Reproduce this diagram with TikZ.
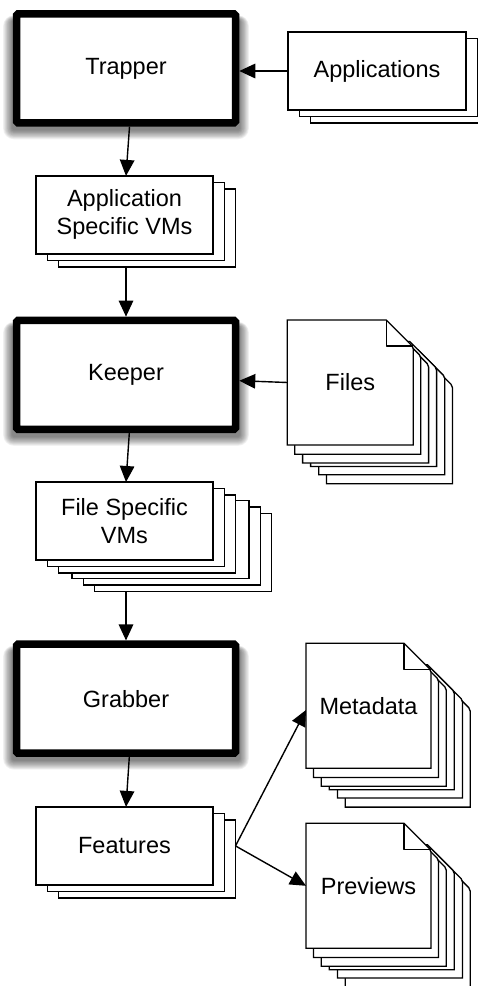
\documentclass[tikz,border=0pt]{standalone}
\usepackage{fontspec}
\setmainfont{Liberation Sans}
\usetikzlibrary{arrows.meta,backgrounds}

\newcommand\labelfont{\fontsize{23.5}{28}\selectfont}

\tikzset{
  thinline/.style={line width=1.3pt, draw=black},
  stage/.style={draw=black, fill=white, line width=7.5pt, rounded corners=1.5pt,
    minimum width=219pt, minimum height=109pt, inner sep=0pt, font=\labelfont},
  stackbox/.style={thinline, fill=white, minimum width=177pt, minimum height=78pt,
    inner sep=0pt, outer sep=0pt, align=center, font=\labelfont},
  docpage/.style={minimum width=125pt, minimum height=125pt, inner sep=0pt,
    outer sep=0pt, font=\labelfont},
  flow/.style={line width=1.4pt, -{Triangle[length=16pt,width=14.5pt]}},
}

% one sheet of a stacked box, shifted by (dx,dy) downwards-right
\newcommand\backbox[3]{%
  \filldraw[thinline, fill=white] ([shift={(#2,#3)}]#1.north west) rectangle ([shift={(#2,#3)}]#1.south east);}

% one document sheet with a cut corner, shifted by (dx,dy)
\newcommand\docsheet[3]{%
  \filldraw[thinline, fill=white] ([shift={(#2,#3)}]#1.north west)
    -- ([shift={(#2-27,#3)}]#1.north east)
    [rounded corners=2pt] -- ([shift={(#2,#3+27)}]#1.north east)
    [sharp corners] -- ([shift={(#2,#3)}]#1.south east)
    -- ([shift={(#2,#3)}]#1.south west) -- cycle;}

% a pile of document sheets behind a named node
\newcommand\docstack[1]{%
  \docsheet{#1}{39.2}{38.8}
  \docsheet{#1}{31.5}{29.7}
  \docsheet{#1}{23.3}{21.4}
  \docsheet{#1}{15.3}{18}
  \docsheet{#1}{7.5}{9.2}
  \docsheet{#1}{0}{0}
  \draw[thinline, line join=round] ([shift={(-27,0)}]#1.north east)
    -- ([shift={(-27,26)}]#1.north east) -- ([shift={(0,26)}]#1.north east);}

% soft drop shadow under a named node, falling mostly downwards
\newcommand\softshadow[1]{%
  \foreach \e [evaluate=\e as \rc using {\e*0.8+1}, evaluate=\e as \d using {\e*0.8}] in {1,...,12}{%
    \fill[black, opacity=0.05, rounded corners=\rc pt]
      ([shift={(-\d,10-0.5*\d)}]#1.north west) rectangle ([shift={(\d,3+\d)}]#1.south east);}}

\begin{document}
\begin{tikzpicture}[x=1pt,y=-1pt]
\useasboundingbox (0,0) rectangle (477,986);

% main stages
\node[stage] (trapper) at (126,68.4) {Trapper};
\node[stage] (keeper)  at (126,374.9) {Keeper};
\node[stage] (grabber) at (126,698.7) {Grabber};

% stacked boxes
\node[stackbox, minimum width=178pt] (apps) at (377,71) {Applications};
\node[stackbox] (appvm)  at (124.5,214.9) {Application\\Specific VMs};
\node[stackbox] (filevm) at (124.5,521) {File Specific\\VMs};
\node[stackbox] (feat)   at (124.5,845.9) {Features};

% document piles
\node[docpage, minimum width=126pt] (files) at (350.3,382.5) {Files};
\node[docpage] (meta) at (368.5,705.8) {Metadata};
\node[docpage] (prev) at (368.5,885.8) {Previews};

\begin{scope}[on background layer]
  \softshadow{trapper}
  \softshadow{keeper}
  \softshadow{grabber}
  \backbox{apps}{22.5}{13}
  \backbox{apps}{11.3}{6.5}
  \backbox{appvm}{22.5}{13}
  \backbox{appvm}{11.3}{6.5}
  \backbox{filevm}{58.8}{31.8}
  \backbox{filevm}{47.5}{25}
  \backbox{filevm}{36}{18.5}
  \backbox{filevm}{22.5}{13}
  \backbox{filevm}{11.3}{6.5}
  \backbox{feat}{22.5}{13}
  \backbox{feat}{11.3}{6.5}
  \docstack{files}
  \docstack{meta}
  \docstack{prev}
\end{scope}

% connectors
\coordinate (appvmout)  at ([shift={(1.5,13)}]appvm.south);
\coordinate (filevmout) at ([shift={(1.5,31.8)}]filevm.south);
\coordinate (featout)   at ([xshift=22.5pt]feat.east);

\draw[flow] (apps.west) -- (apps.west -| trapper.east);
\draw[flow] ([xshift=3.5pt]trapper.south) -- ([xshift=1.5pt]appvm.north);
\draw[flow] (appvmout) -- (appvmout |- keeper.north);
\draw[flow] (files.west) -- ([yshift=-5.8pt]keeper.east);
\draw[flow] ([xshift=3.3pt]keeper.south) -- ([xshift=1.5pt]filevm.north);
\draw[flow] (filevmout) -- (filevmout |- grabber.north);
\draw[flow] ([xshift=3.3pt]grabber.south) -- ([xshift=1.5pt]feat.north);
\draw[flow] (featout) -- ([yshift=-4.2pt]meta.west);
\draw[flow] (featout) -- (prev.west);
\end{tikzpicture}
\end{document}
